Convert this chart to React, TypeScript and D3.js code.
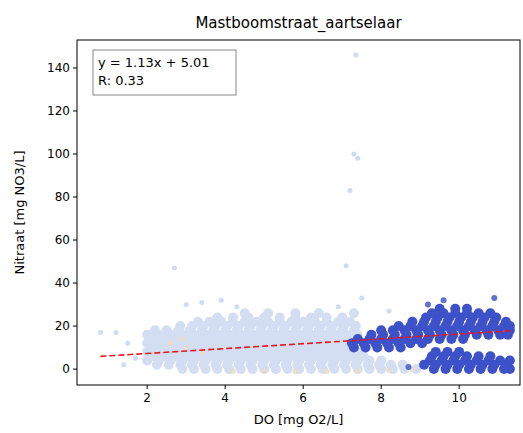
import * as d3 from 'd3';

// scatter rows: y value and x positions of the points in that row
const lightRows: { y: number; xs: number[] }[] = [
  { y: 0, xs: [2.9, 3.2, 3.5, 3.8, 4.1, 4.4, 4.7, 5.0, 5.3, 5.6, 5.9, 6.2, 6.5, 6.8, 7.1, 7.4, 7.7, 8.0, 8.3, 8.6, 8.9] },
  { y: 2, xs: [2.25, 2.55, 2.85, 3.15, 3.45, 3.75, 4.05, 4.35, 4.65, 4.95, 5.25, 5.55, 5.85, 6.15, 6.45, 6.75, 7.05, 7.35, 7.65, 7.95, 8.25, 8.55] },
  { y: 4, xs: [2.0, 2.3, 2.6, 2.9, 3.2, 3.5, 3.8, 4.1, 4.4, 4.7, 5.0, 5.3, 5.6, 5.9, 6.2, 6.5, 6.8, 7.1, 7.4, 7.7, 8.0] },
  { y: 6, xs: [2.15, 2.45, 2.75, 3.05, 3.35, 3.65, 3.95, 4.25, 4.55, 4.85, 5.15, 5.45, 5.75, 6.05, 6.35, 6.65, 6.95, 7.25, 7.55] },
  { y: 8, xs: [2.0, 2.3, 2.6, 2.9, 3.2, 3.5, 3.8, 4.1, 4.4, 4.7, 5.0, 5.3, 5.6, 5.9, 6.2, 6.5, 6.8, 7.1, 7.4] },
  { y: 10, xs: [2.15, 2.45, 2.75, 3.05, 3.35, 3.65, 3.95, 4.25, 4.55, 4.85, 5.15, 5.45, 5.75, 6.05, 6.35, 6.65, 6.95, 7.25] },
  { y: 12, xs: [2.0, 2.3, 2.6, 2.9, 3.2, 3.5, 3.8, 4.1, 4.4, 4.7, 5.0, 5.3, 5.6, 5.9, 6.2, 6.5, 6.8, 7.1] },
  { y: 14, xs: [2.15, 2.45, 2.75, 3.05, 3.35, 3.65, 3.95, 4.25, 4.55, 4.85, 5.15, 5.45, 5.75, 6.05, 6.35, 6.65, 6.95, 7.25] },
  { y: 16, xs: [2.0, 2.3, 2.6, 2.9, 3.2, 3.5, 3.8, 4.1, 4.4, 4.7, 5.0, 5.3, 5.6, 5.9, 6.2, 6.5, 6.8, 7.1, 7.4] },
  { y: 18, xs: [2.2, 2.5, 2.8, 3.1, 3.4, 3.7, 4.0, 4.3, 4.6, 4.9, 5.2, 5.5, 5.8, 6.1, 6.4, 6.7, 7.0, 7.3] },
  { y: 20, xs: [2.85, 3.15, 3.45, 3.75, 4.05, 4.35, 4.65, 4.95, 5.25, 5.55, 5.85, 6.15, 6.45, 6.75, 7.05, 7.35] },
  { y: 22, xs: [3.3, 3.6, 3.9, 4.2, 4.5, 4.8, 5.1, 5.4, 5.7, 6.0, 6.3, 6.6, 6.9, 7.2] },
  { y: 24, xs: [3.8, 4.2, 4.6, 5.0, 5.4, 5.8, 6.2, 6.6, 7.0] },
  { y: 26, xs: [4.5, 5.1, 5.8, 6.4, 7.3] },
];
const lightOutliers: [number, number][] = [
  [0.8, 17], [1.2, 17], [1.5, 12], [1.7, 5], [1.4, 2], [2.7, 47], [3.0, 30], [3.4, 31], [3.9, 32],
  [7.1, 48], [7.2, 83], [7.3, 100], [7.4, 98], [7.35, 146], [7.5, 33], [6.9, 29], [8.2, 27], [4.3, 29],
];
const darkRows: { y: number; xs: number[] }[] = [
  { y: 10, xs: [7.3, 7.6, 7.9, 8.2, 8.5] },
  { y: 12, xs: [7.25, 7.55, 7.85, 8.15, 8.45, 8.75, 9.05] },
  { y: 14, xs: [7.4, 7.7, 8.0, 8.3, 8.6, 8.9, 9.2, 9.5, 9.8, 10.1] },
  { y: 16, xs: [7.75, 8.05, 8.35, 8.65, 8.95, 9.25, 9.55, 9.85, 10.15, 10.45, 10.75, 11.05, 11.25] },
  { y: 18, xs: [8.0, 8.3, 8.6, 8.9, 9.2, 9.5, 9.8, 10.1, 10.4, 10.7, 11.0, 11.3] },
  { y: 20, xs: [8.45, 8.75, 9.05, 9.35, 9.65, 9.95, 10.25, 10.55, 10.85, 11.15, 11.3] },
  { y: 22, xs: [8.8, 9.1, 9.4, 9.7, 10.0, 10.3, 10.6, 10.9, 11.2] },
  { y: 24, xs: [9.15, 9.45, 9.75, 10.05, 10.35, 10.65, 10.95] },
  { y: 26, xs: [9.3, 9.6, 9.9, 10.2, 10.5, 10.8] },
  { y: 28, xs: [9.5, 9.9, 10.2] },
  { y: 0, xs: [9.35, 9.65, 9.95, 10.25, 10.55, 10.85, 11.15, 11.3] },
  { y: 2, xs: [9.1, 9.4, 9.7, 10.0, 10.3, 10.6, 10.9, 11.2] },
  { y: 4, xs: [9.25, 9.55, 9.85, 10.15, 10.45, 10.75, 11.05, 11.3] },
  { y: 6, xs: [9.3, 9.6, 9.9, 10.2, 10.5, 10.8] },
  { y: 8, xs: [9.4, 9.7, 10.0] },
];
const darkOutliers: [number, number][] = [[10.9, 33], [8.7, 1], [9.6, 32], [9.2, 30]];
const beigePts: [number, number][] = [
  [2.6, 12], [3.0, 10], [3.4, 8], [2.9, 14], [4.2, -1], [5.0, -1], [5.8, -1], [6.6, -1], [7.4, -1], [8.2, -0.5], [8.8, 0],
];

const slope = 1.13;
const intercept = 5.01;
const xTicks = [2, 4, 6, 8, 10];
const yTicks = [0, 20, 40, 60, 80, 100, 120, 140];

export default function App() {
  const left = 77, right = 520, top = 40, bottom = 385;
  const x = d3.scaleLinear().domain([0.2, 11.56]).range([left, right]);
  const y = d3.scaleLinear().domain([-7.4, 153]).range([bottom, top]);
  const flat = (rows: { y: number; xs: number[] }[]) => rows.flatMap((r) => r.xs.map((v) => [v, r.y] as [number, number]));
  const light = flat(lightRows);
  const dark = flat(darkRows);
  const line = d3.line<number>().x((v) => x(v)).y((v) => y(slope * v + intercept));
  const font = 'DejaVu Sans, sans-serif';
  return (
    <svg width={523} height={433} style={{ position: 'absolute', left: 0, top: 0 }} fontFamily={font}>
      <rect width={523} height={433} fill="#fff" />
      <text x={(left + right) / 2} y={28} textAnchor="middle" fontSize={15}>Mastboomstraat_aartselaar</text>
      <g>
        {light.map(([a, b], i) => (
          <circle key={'l' + i} cx={x(a)} cy={y(b)} r={5} fill="#d3def2" />
        ))}
        {lightOutliers.map(([a, b], i) => (
          <circle key={'o' + i} cx={x(a)} cy={y(b)} r={2.5} fill="#c5d5f0" opacity={0.85} />
        ))}
        {beigePts.map(([a, b], i) => (
          <circle key={'b' + i} cx={x(a)} cy={y(b)} r={3} fill="#e9dccd" opacity={0.8} />
        ))}
        {dark.map(([a, b], i) => (
          <circle key={'d' + i} cx={x(a)} cy={y(b)} r={5} fill="#3d51c8" />
        ))}
        {darkOutliers.map(([a, b], i) => (
          <circle key={'q' + i} cx={x(a)} cy={y(b)} r={3} fill="#4458c8" opacity={0.85} />
        ))}
      </g>
      <path d={line([0.8, 11.3]) ?? ''} stroke="#e8151b" strokeWidth={1.6} strokeDasharray="6,3" fill="none" />
      <rect x={left} y={top} width={right - left} height={bottom - top} fill="none" stroke="#000" strokeWidth={1} />
      {xTicks.map((t) => (
        <g key={t}>
          <line x1={x(t)} x2={x(t)} y1={bottom} y2={bottom + 4} stroke="#000" />
          <text x={x(t)} y={bottom + 17} textAnchor="middle" fontSize={12}>{t}</text>
        </g>
      ))}
      {yTicks.map((t) => (
        <g key={t}>
          <line x1={left - 4} x2={left} y1={y(t)} y2={y(t)} stroke="#000" />
          <text x={left - 7} y={y(t) + 4} textAnchor="end" fontSize={12}>{t}</text>
        </g>
      ))}
      <text x={(left + right) / 2} y={424} textAnchor="middle" fontSize={13}>DO [mg O2/L]</text>
      <text transform={`translate(24,${(top + bottom) / 2}) rotate(-90)`} textAnchor="middle" fontSize={13}>Nitraat [mg NO3/L]</text>
      <rect x={93} y={50} width={143} height={45} fill="#fff" stroke="#888" />
      <text x={98} y={67} fontSize={13}>y = 1.13x + 5.01</text>
      <text x={98} y={85} fontSize={13}>R: 0.33</text>
    </svg>
  );
}
